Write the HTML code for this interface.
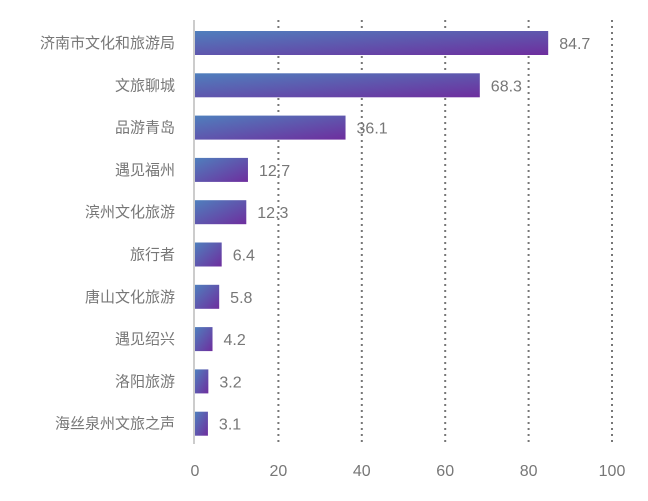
<!DOCTYPE html>
<html><head><meta charset="utf-8"><style>
html,body{margin:0;padding:0;background:#fff;}
svg text{font-family:"Liberation Sans","Noto Sans CJK SC",sans-serif;fill:#777;}
</style></head><body>
<svg width="648" height="496" viewBox="0 0 648 496">
<defs><linearGradient id="g" x1="0" y1="0" x2="1" y2="1" gradientUnits="objectBoundingBox">
<stop offset="0" stop-color="#4f7fbd"/><stop offset="1" stop-color="#6e2e9e"/></linearGradient></defs>
<g id="grid"></g><g id="bars"></g><g id="labels"></g>
</svg>
<script>
const categories=["济南市文化和旅游局","文旅聊城","品游青岛","遇见福州","滨州文化旅游","旅行者","唐山文化旅游","遇见绍兴","洛阳旅游","海丝泉州文旅之声"];
const values=[84.7,68.3,36.1,12.7,12.3,6.4,5.8,4.2,3.2,3.1];
const ticks=[0,20,40,60,80,100];
const ns="http://www.w3.org/2000/svg";
const x0=195,x1=612,yTop=20,yBottom=444,firstC=43,step=42.3,bh=24;
const xs=v=>x0+(x1-x0)*v/100;
const yc=i=>firstC+i*step;
function mk(t,a,p){const e=document.createElementNS(ns,t);for(const k in a)e.setAttribute(k,a[k]);p.appendChild(e);return e;}
const grid=document.getElementById('grid'),bars=document.getElementById('bars'),labels=document.getElementById('labels');
ticks.forEach(t=>{
 if(t>0){const l=mk('line',{x1:xs(t),x2:xs(t),y1:yTop,y2:yBottom,stroke:'#777','stroke-width':2,'stroke-dasharray':'2,4'},grid);
 
 }
 const tx=mk('text',{x:xs(t),y:476,'text-anchor':'middle','font-size':16},labels);tx.textContent=t;
 
 
});
const ax=mk('line',{x1:x0-1,x2:x0-1,y1:yTop,y2:yBottom,stroke:'#ccc','stroke-width':2},grid);


categories.forEach((c,i)=>{
 const r=mk('rect',{x:x0,y:yc(i)-bh/2,width:xs(values[i])-x0,height:bh,fill:'url(#g)'},bars);
 
 
 const cl=mk('text',{x:175,y:yc(i)+5,'text-anchor':'end','font-size':15},labels);cl.textContent=c;
 
 
 const vl=mk('text',{x:xs(values[i])+11,y:yc(i)+6,'font-size':16},labels);vl.textContent=values[i];
 
 
});
</script>
</body></html>
